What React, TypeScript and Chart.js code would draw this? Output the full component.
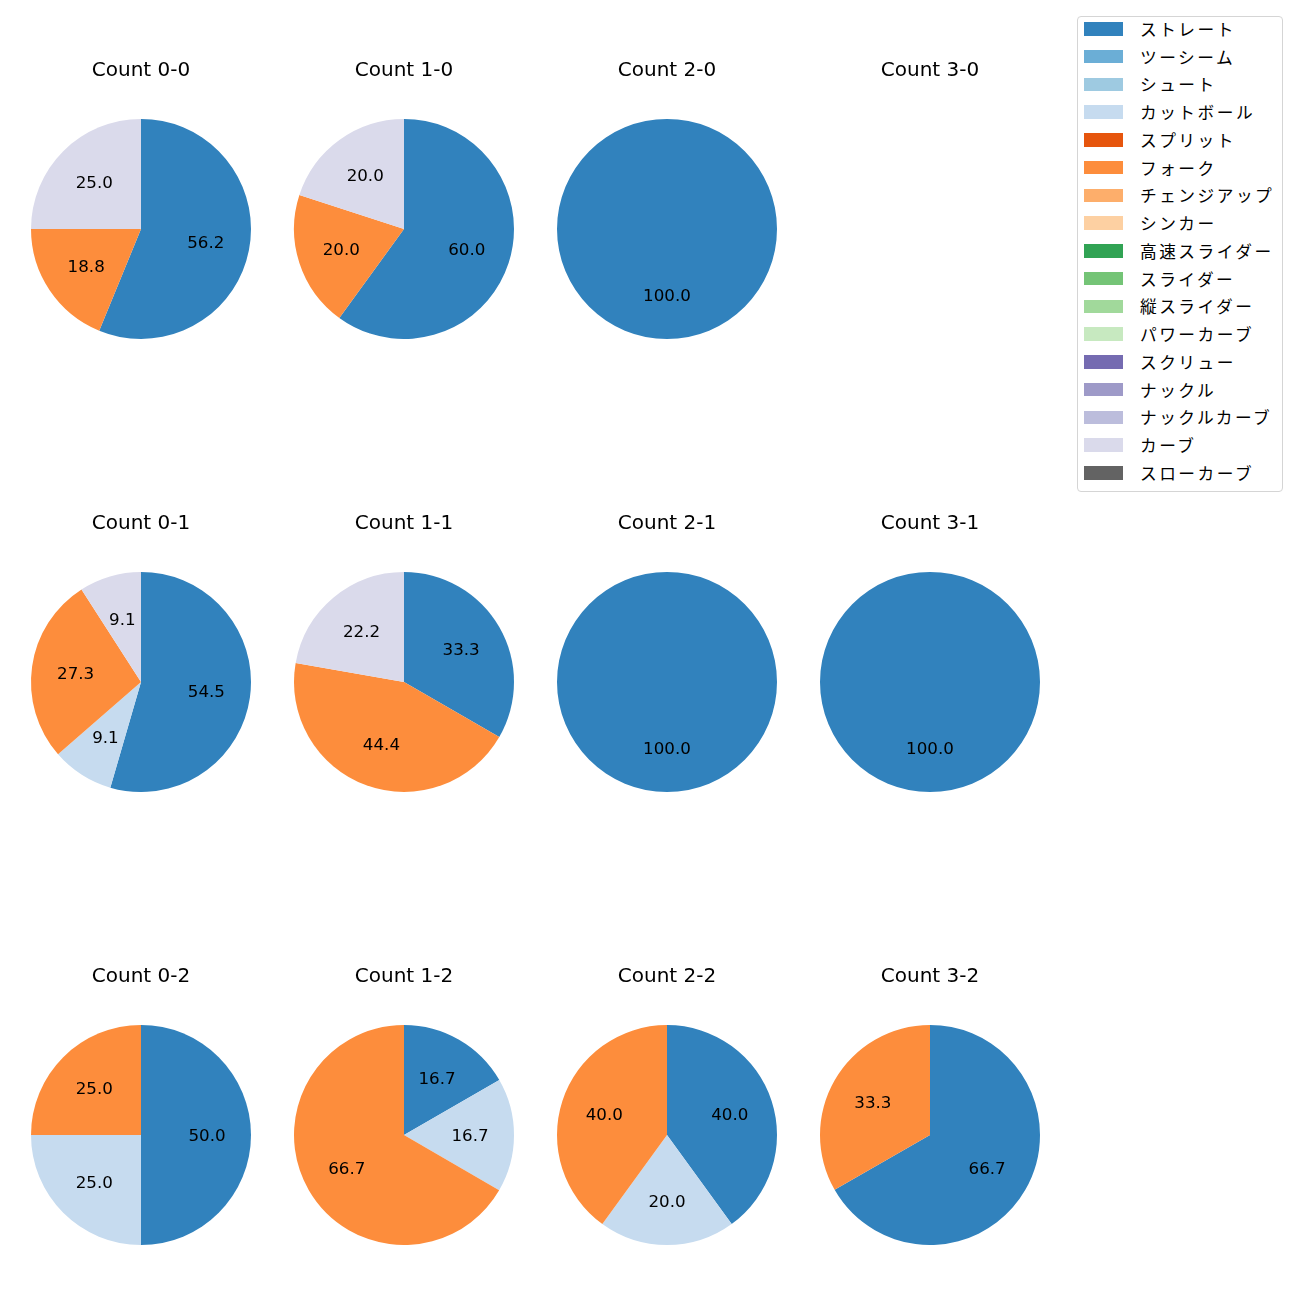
import React, { useEffect, useRef } from "react";
import { Chart, registerables } from "chart.js";
Chart.register(...registerables);

const FONT = '"DejaVu Sans", "Noto Sans CJK JP", sans-serif';
const JP_FONT = '"Noto Sans CJK JP", "DejaVu Sans", sans-serif';

// Legend: all pitch types and their colours
const pitchTypes = [
  "ストレート", "ツーシーム", "シュート", "カットボール", "スプリット", "フォーク",
  "チェンジアップ", "シンカー", "高速スライダー", "スライダー", "縦スライダー",
  "パワーカーブ", "スクリュー", "ナックル", "ナックルカーブ", "カーブ", "スローカーブ",
];
const pitchColors = [
  "#3182bd", "#6baed6", "#9ecae1", "#c6dbef", "#e6550d", "#fd8d3c",
  "#fdae6b", "#fdd0a2", "#31a354", "#74c476", "#a1d99b",
  "#c7e9c0", "#756bb1", "#9e9ac8", "#bcbddc", "#dadaeb", "#636363",
];

// Pie panels
const countTitles = [
  "Count 0-0", "Count 1-0", "Count 2-0", "Count 3-0",
  "Count 0-1", "Count 1-1", "Count 2-1", "Count 3-1",
  "Count 0-2", "Count 1-2", "Count 2-2", "Count 3-2",
];
const sliceTypes = ["ストレート", "カットボール", "フォーク", "カーブ"];
const straightPct = [56.2, 60.0, 100.0, 0, 54.5, 33.3, 100.0, 100.0, 50.0, 16.7, 40.0, 66.7];
const cutterPct = [0, 0, 0, 0, 9.1, 0, 0, 0, 25.0, 16.7, 20.0, 0];
const forkPct = [18.8, 20.0, 0, 0, 27.3, 44.4, 0, 0, 25.0, 66.7, 40.0, 33.3];
const curvePct = [25.0, 20.0, 0, 0, 9.1, 22.2, 0, 0, 0, 0, 0, 0];

const COL_CX = [141, 404, 667, 930];
const ROW_CY = [229, 682, 1135];
const R = 110;
const TITLE_SIZE = 20;
const PCT_SIZE = 16.7;

const pctLabels = {
  id: "pctLabels",
  afterDatasetsDraw(chart: any) {
    const ctx = chart.ctx;
    const meta = chart.getDatasetMeta(0);
    const vals = chart.data.datasets[0].data as number[];
    ctx.save();
    ctx.font = `${PCT_SIZE}px ${FONT}`;
    ctx.fillStyle = "#000";
    ctx.textAlign = "center";
    ctx.textBaseline = "middle";
    meta.data.forEach((arc: any, i: number) => {
      const v = vals[i];
      if (!v) return;
      const p = arc.getProps(["x", "y", "startAngle", "endAngle", "outerRadius"], true);
      const mid = (p.startAngle + p.endAngle) / 2;
      const d = p.outerRadius * 0.6;
      ctx.fillText(v.toFixed(1), p.x + Math.cos(mid) * d, p.y + Math.sin(mid) * d + 1.5);
    });
    ctx.restore();
  },
};

function Pie({ idx }: { idx: number }) {
  const ref = useRef<HTMLCanvasElement>(null);
  const col = idx % 4;
  const row = Math.floor(idx / 4);
  const lineH = TITLE_SIZE * 1.2;
  const padTop = 10;
  const titleCenter = ROW_CY[row] - 158;
  const top = titleCenter - padTop - lineH / 2;
  const padBottom = ROW_CY[row] - R - (top + padTop + lineH);
  const height = padTop + lineH + padBottom + 2 * R;
  const left = COL_CX[col] - R - 10;

  useEffect(() => {
    const values = [straightPct[idx], cutterPct[idx], forkPct[idx], curvePct[idx]];
    const colors = sliceTypes.map((t) => pitchColors[pitchTypes.indexOf(t)]);
    const chart = new Chart(ref.current!, {
      type: "pie",
      data: {
        labels: sliceTypes,
        datasets: [{ data: values, backgroundColor: colors, borderWidth: 0, hoverOffset: 0 }],
      },
      options: {
        responsive: false,
        animation: false,
        layout: { padding: { left: 10, right: 10, top: 0, bottom: 0 } },
        plugins: {
          legend: { display: false },
          tooltip: { enabled: false },
          title: {
            display: true,
            text: countTitles[idx],
            color: "#000",
            font: { family: FONT, size: TITLE_SIZE, weight: "normal", lineHeight: 1.2 },
            padding: { top: padTop, bottom: padBottom },
          },
        },
      },
      plugins: [pctLabels],
    });
    return () => chart.destroy();
  }, [idx]);

  return (
    <canvas
      ref={ref}
      width={2 * R + 20}
      height={height}
      style={{ position: "absolute", left, top, width: 2 * R + 20, height }}
    />
  );
}

function Legend() {
  return (
    <div
      style={{
        position: "absolute",
        left: 1077,
        top: 15.5,
        width: 206,
        height: 476,
        boxSizing: "border-box",
        border: "1px solid #d5d5d5",
        borderRadius: 4,
        background: "#fff",
        fontFamily: JP_FONT,
        fontSize: 16.7,
        color: "#000",
      }}
    >
      {pitchTypes.map((t, i) => (
        <div
          key={t}
          style={{
            position: "absolute",
            left: 0,
            top: 12.3 + i * 27.75 - 14,
            height: 28,
            display: "flex",
            alignItems: "center",
            whiteSpace: "nowrap",
          }}
        >
          <span
            style={{
              display: "inline-block",
              marginLeft: 6,
              width: 39,
              height: 13.5,
              background: pitchColors[i],
            }}
          />
          <span style={{ marginLeft: 17, lineHeight: "28px", letterSpacing: "2.5px" }}>{t}</span>
        </div>
      ))}
    </div>
  );
}

export default function App() {
  return (
    <div style={{ position: "absolute", left: 0, top: 0, width: 1300, height: 1300, background: "#fff" }}>
      {countTitles.map((_, i) => (
        <Pie key={i} idx={i} />
      ))}
      <Legend />
    </div>
  );
}
